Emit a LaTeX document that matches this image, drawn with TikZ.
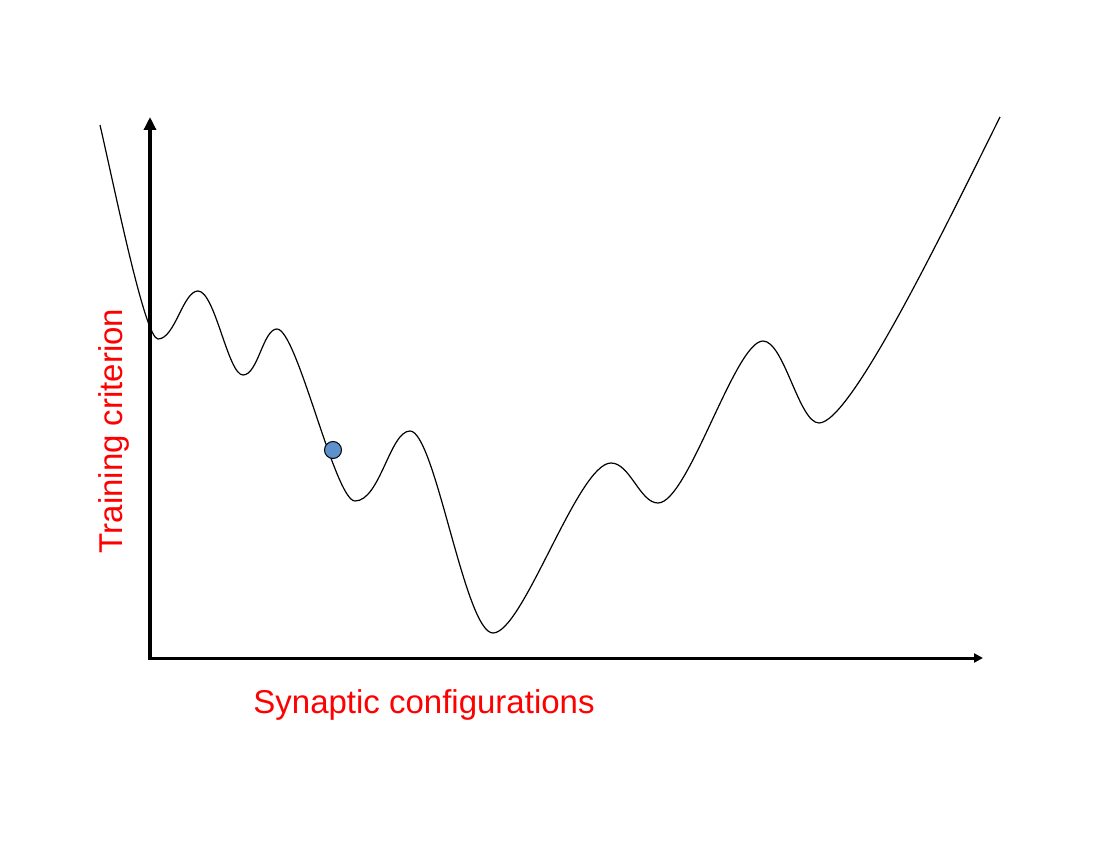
\documentclass[tikz,border=0pt]{standalone}
\usepackage{fontspec}
\setmainfont{Liberation Sans}
\usetikzlibrary{arrows.meta}
\definecolor{ballblue}{RGB}{93,145,204}
\tikzset{
  axisy/.style={line width=4pt,-{Triangle[length=13pt,width=12pt]}},
  axisx/.style={line width=3pt,-{Triangle[length=9pt,width=9pt]}},
  landscape/.style={line width=1.2pt,black},
  lbl/.style={text=red,inner sep=0pt,font=\fontsize{33}{40}\selectfont},
  ball/.style={circle,draw=black,line width=1pt,fill=ballblue,minimum size=17pt,inner sep=0pt}
}
\begin{document}
\begin{tikzpicture}[x=1pt,y=-1pt]
\useasboundingbox (0,0) rectangle (1100,850);
\coordinate (origin) at (150,660);
\coordinate (ytop) at (150,117);
\coordinate (xstart) at (148,658);
\coordinate (xend) at (983,658);
\draw[axisy] (origin) -- (ytop);
\draw[axisx] (xstart) -- (xend);
\coordinate (p0) at (100,125);
\coordinate (m1) at (158,339);
\coordinate (M1) at (198,291);
\coordinate (m2) at (243,375);
\coordinate (M2) at (277,329);
\coordinate (m3) at (355,501);
\coordinate (M3) at (410,431);
\coordinate (m4) at (493,633);
\coordinate (M4) at (611,463);
\coordinate (m5) at (658,503);
\coordinate (M5) at (763,341);
\coordinate (m6) at (819,423);
\coordinate (p1) at (1000,117);
\draw[landscape] (p0)
  .. controls (115,190) and (145,339) .. (m1)
  .. controls (175,339) and (183,291) .. (M1)
  .. controls (215,291) and (228,375) .. (m2)
  .. controls (258,375) and (263,329) .. (M2)
  .. controls (297,329) and (335,501) .. (m3)
  .. controls (380,501) and (390,431) .. (M3)
  .. controls (435,431) and (465,633) .. (m4)
  .. controls (523,633) and (578,463) .. (M4)
  .. controls (630,463) and (640,503) .. (m5)
  .. controls (688,503) and (735,341) .. (M5)
  .. controls (784,341) and (799,423) .. (m6)
  .. controls (850,423) and (940,238) .. (p1);
\node[ball] (marble) at (333,450) {};
\node[lbl,anchor=base] (xlabel) at (424,713) {Synaptic configurations};
\node[lbl,anchor=base,rotate=90] (ylabel) at (122,431) {Training criterion};
\end{tikzpicture}
\end{document}
